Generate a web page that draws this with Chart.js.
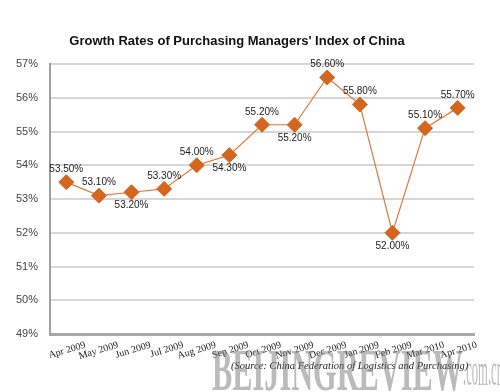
<!DOCTYPE html>
<html>
<head>
<meta charset="utf-8">
<script src="https://cdn.jsdelivr.net/npm/chart.js@4"></script>
<style>
  html,body{margin:0;padding:0;background:#fff;}
  #wrap{width:500px;height:392px;}
</style>
</head>
<body>
<div id="wrap"><canvas id="pmi" width="500" height="392"></canvas></div>
<script>
// chart data
const months = ['Apr 2009','May 2009','Jun 2009','Jul 2009','Aug 2009','Sep 2009','Oct 2009','Nov 2009','Dec 2009','Jan 2009','Feb 2009','Mar 2010','Apr 2010'];
const pmi = [53.5, 53.1, 53.2, 53.3, 54.0, 54.3, 55.2, 55.2, 56.6, 55.8, 52.0, 55.1, 55.7];
const yTicks = [49, 50, 51, 52, 53, 54, 55, 56, 57];

// label side for each point (1 = above, -1 = below)
const labelSide = [1, 1, -1, 1, 1, -1, 1, -1, 1, 1, -1, 1, 1];

const orange = '#d4661f';

const pointLabels = {
  id: 'pointLabels',
  afterDatasetsDraw(chart){
    const ctx = chart.ctx;
    const meta = chart.getDatasetMeta(0);
    ctx.save();
    ctx.font = '10px "Liberation Sans", Arial, sans-serif';
    ctx.fillStyle = '#222';
    ctx.textAlign = 'center';
    ctx.textBaseline = 'middle';
    meta.data.forEach((pt, i) => {
      ctx.fillText(pmi[i].toFixed(2) + '%', pt.x, pt.y - labelSide[i] * 13);
    });
    ctx.restore();
  }
};

const footer = {
  id: 'footer',
  afterDraw(chart){
    const ctx = chart.ctx;
    ctx.save();
    ctx.font = 'italic 10.5px "Liberation Serif", serif';
    ctx.fillStyle = '#222';
    ctx.textBaseline = 'middle';
    ctx.fillText('(Source: China Federation of Logistics and Purchasing)', 231, 366);

    // watermark
    ctx.fillStyle = 'rgba(120,120,120,0.5)';
    ctx.textBaseline = 'alphabetic';
    ctx.font = 'bold 60px "Liberation Serif", serif';
    let w = ctx.measureText('BEIJINGREVIEW').width;
    ctx.save();
    ctx.translate(212, 390);
    ctx.scale(251 / w, 1);
    ctx.fillText('BEIJINGREVIEW', 0, 0);
    ctx.restore();
    ctx.font = '46px "Liberation Serif", serif';
    w = ctx.measureText('.com.cn').width;
    ctx.translate(463, 385);
    ctx.scale(40 / w, 1);
    ctx.fillText('.com.cn', 0, 0);
    ctx.restore();
  }
};

new Chart(document.getElementById('pmi'), {
  type: 'line',
  data: {
    labels: months,
    datasets: [{
      data: pmi,
      borderColor: '#e07a3a',
      borderWidth: 1.2,
      backgroundColor: orange,
      pointStyle: 'rectRot',
      pointRadius: 7.5,
      pointBorderWidth: 1,
      pointBorderColor: orange,
      pointBackgroundColor: orange,
      tension: 0
    }]
  },
  options: {
    responsive: false,
    animation: false,
    layout: { padding: { left: 0, right: 26, top: 0, bottom: 0 } },
    plugins: {
      legend: { display: false },
      tooltip: { enabled: false },
      title: {
        display: true,
        text: "Growth Rates of Purchasing Managers' Index of China",
        color: '#111',
        font: { family: '"Liberation Sans", Arial, sans-serif', size: 13, weight: 'bold' },
        padding: { top: 33.5, bottom: 14.9 }
      }
    },
    scales: {
      x: {
        offset: true,
        grid: { display: false, drawTicks: false },
        border: { display: true, color: '#a8a8a8', width: 3 },
        afterFit(s){ s.height = 58; },
        ticks: {
          autoSkip: false,
          minRotation: 17,
          maxRotation: 17,
          labelOffset: 19,
          padding: 5,
          color: '#222',
          font: { family: '"Liberation Serif", serif', size: 10 }
        }
      },
      y: {
        min: 49,
        max: 57,
        afterFit(s){ s.width = 50; },
        afterBuildTicks(s){ s.ticks = yTicks.map(v => ({ value: v })); },
        grid: { color: '#d6d6d6', lineWidth: 2, drawTicks: false },
        border: { display: true, color: '#a0a0a0', width: 2 },
        ticks: {
          padding: 12,
          color: '#444',
          font: { family: '"Liberation Sans", Arial, sans-serif', size: 11 },
          callback: v => v + '%'
        }
      }
    }
  },
  plugins: [pointLabels, footer]
});
</script>
</body>
</html>
